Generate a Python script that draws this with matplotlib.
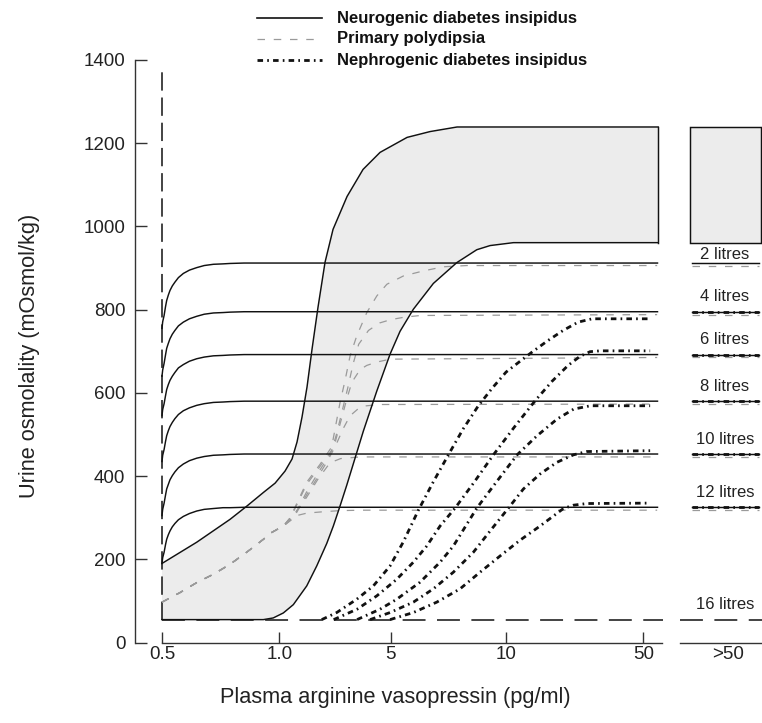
import numpy as np
import matplotlib
matplotlib.use("Agg")
import matplotlib.pyplot as plt
from matplotlib.lines import Line2D
from matplotlib.patches import Rectangle

plt.rcParams['font.family'] = ['Liberation Sans', 'DejaVu Sans']

# ------------------------------------------------------------------ data
X_TICKS = [0.5, 1.0, 5, 10, 50]
X_TICK_LABELS = ['0.5', '1.0', '5', '10', '50']
Y_TICKS = [0, 200, 400, 600, 800, 1000, 1200, 1400]
GT50_LABEL = '>50'
LITRE_LABELS = ['2 litres', '4 litres', '6 litres', '8 litres', '10 litres', '12 litres']
LABEL_16L = '16 litres'
LEGEND_LABELS = ['Neurogenic diabetes insipidus', 'Primary polydipsia',
                 'Nephrogenic diabetes insipidus']

LEVEL_16L = 55                 # maximal dilution (16 litres)
LIMIT_LINE_Y = [55, 1381]      # vertical dashed line at 0.5 pg/ml
LIMIT_LINE_X = 0.5

# Neurogenic diabetes insipidus (solid)
NEURO_X = [0.5, 0.503, 0.509, 0.515, 0.520, 0.527, 0.534, 0.544, 0.555, 0.570,
           0.591, 0.617, 0.648, 0.680, 0.719, 0.760, 0.790, 0.850, 54.1]
NEURO_2L = [755, 771, 786, 807, 822, 835, 846, 857, 866, 877,
            887, 895, 901, 906, 909, 910, 911, 912, 912]
NEURO_4L = [640, 655, 671, 691, 707, 719, 730, 741, 750, 761,
            770, 778, 784, 789, 792, 793, 794, 795, 795]
NEURO_6L = [545, 560, 574, 593, 608, 620, 630, 640, 649, 660,
            668, 676, 682, 686, 689, 690, 691, 692, 692]
NEURO_8L = [435, 450, 464, 483, 497, 509, 519, 529, 538, 548,
            557, 564, 570, 574, 577, 578, 579, 580, 580]
NEURO_10L = [305, 320, 335, 354, 369, 380, 391, 401, 410, 420,
             429, 437, 443, 447, 450, 451, 452, 453, 453]
NEURO_12L = [190, 204, 217, 235, 248, 259, 268, 278, 286, 295,
             303, 310, 316, 320, 322, 324, 324, 325, 325]

# Normal range band
BAND_UP_X = [0.5, 0.648, 0.790, 0.862, 0.933, 0.982, 1.205, 1.456, 1.636, 1.815,
             1.994, 2.174, 2.389, 2.641, 2.928, 3.431, 4.005, 4.616, 5.707, 6.704,
             7.875, 54.28]
BAND_UP_Y = [190, 241, 296, 328, 361, 383, 412, 441, 482, 542,
             614, 705, 806, 914, 993, 1072, 1137, 1178, 1214, 1228,
             1239, 1239]
BAND_LO_X = [0.5, 0.896, 0.932, 0.974, 1.144, 1.503, 1.984, 2.343, 2.702, 2.939,
             3.179, 3.420, 3.718, 4.016, 4.497, 4.975, 5.403, 5.980, 6.847, 7.862,
             8.729, 9.306, 12.13, 54.28]
BAND_LO_Y = [55, 55, 55, 59, 71, 91, 136, 184, 238, 280,
             328, 378, 443, 508, 604, 693, 748, 801, 863, 913,
             944, 954, 961, 961]

# Primary polydipsia (grey dashed): common trunk + branches
PP_TRUNK_X = [0.5, 0.577, 0.648, 0.719, 0.790, 0.861, 0.932, 0.969, 1.144]
PP_TRUNK_Y = [97, 120, 144, 164, 188, 217, 248, 265, 280]
PP_2L_X = [1.39, 1.98, 2.46, 2.88, 3.0, 3.18, 3.36, 3.54, 3.78, 4.14, 4.50, 4.86,
           5.55, 6.41, 7.28, 8.3, 54.0]
PP_2L_Y = [300, 385, 428, 470, 513, 577, 630, 689, 737, 793, 833, 861,
           881, 893, 903, 906, 906]
PP_4L_X = [1.39, 1.98, 2.46, 2.88, 3.05, 3.25, 3.45, 3.65, 3.85, 4.2, 4.6, 5.0,
           5.6, 6.3, 54.0]
PP_4L_Y = [298, 380, 423, 462, 500, 555, 610, 670, 717, 750, 768, 776,
           782, 786, 788]
PP_6L_X = [1.5, 1.98, 2.46, 2.8, 3.0, 3.2, 3.4, 3.6, 3.9, 4.14, 4.5, 4.98, 54.0]
PP_6L_Y = [300, 362, 415, 450, 480, 530, 580, 625, 656, 666, 674, 681, 685]
PP_8L_X = [1.5, 1.98, 2.4, 2.7, 3.0, 3.3, 3.54, 3.8, 4.0, 4.6, 54.0]
PP_8L_Y = [298, 355, 400, 433, 470, 515, 545, 560, 568, 572, 573]
PP_10L_X = [1.67, 1.98, 2.39, 2.82, 3.2, 3.9, 54.0]
PP_10L_Y = [320, 349, 393, 432, 442, 446, 446]
PP_12L_X = [1.56, 1.99, 2.53, 3.18, 4.0, 54.0]
PP_12L_Y = [304, 311, 314, 317, 318, 318]

# Nephrogenic diabetes insipidus (heavy dash-dot)
NEPHRO_1_X = [2.522, 3.061, 3.779, 4.375, 4.975, 5.546, 6.197, 6.834, 7.497, 8.135,
              8.785, 9.393, 10.0, 14.08, 17.87, 22.24, 26.61, 30.98, 35.06, 51.95]
NEPHRO_1_Y = [55, 72, 104, 136, 184, 242, 318, 385, 451, 513,
              568, 611, 650, 676, 700, 726, 750, 770, 778, 778]
NEPHRO_2_X = [2.950, 3.790, 4.497, 5.260, 5.980, 6.561, 7.138, 7.788, 8.612, 9.449,
              12.33, 18.45, 23.40, 28.06, 31.56, 34.47, 37.39, 51.95]
NEPHRO_2_Y = [55, 80, 112, 152, 193, 232, 280, 323, 385, 451,
              517, 581, 628, 666, 688, 699, 701, 701]
NEPHRO_3_X = [3.790, 4.615, 5.260, 6.270, 7.138, 7.715, 8.729, 9.609, 13.20, 19.03,
              24.85, 29.69, 34.56, 51.95]
NEPHRO_3_Y = [55, 80, 104, 145, 193, 232, 323, 388, 451, 497,
              537, 561, 569, 569]
NEPHRO_4_X = [4.257, 4.975, 5.980, 6.847, 7.715, 8.582, 9.306, 10.67, 15.04, 19.90,
              24.77, 29.61, 33.51, 51.95]
NEPHRO_4_Y = [55, 72, 97, 129, 169, 217, 268, 323, 369, 405,
              433, 451, 459, 461]
NEPHRO_5_X = [4.975, 5.980, 6.995, 8.005, 8.872, 9.740, 14.08, 19.90, 23.78, 26.69,
              29.61, 33.51, 51.95]
NEPHRO_5_Y = [55, 72, 97, 129, 169, 208, 246, 280, 304, 322,
              330, 334, 335]

# ">50" column levels
GT50_NEURO = [912, 795, 692, 580, 453, 325]
GT50_PP = [906, 788, 685, 573, 446, 318]
GT50_NEPHRO = [795, 692, 580, 453, 325]

# ------------------------------------------------------------------ styles
BLACK = '#111111'
GREY = '#9a9a9a'
FILL = '#ececec'
SPINE = '#333333'
LW_SOLID = 1.05
PP_STYLE = dict(color=GREY, lw=0.9, linestyle=(0, (6, 7)))
NEPHRO_STYLE = dict(color=BLACK, lw=2.0, linestyle=(0, (2.0, 1.5, 0.6, 1.5)),
                    dash_capstyle='butt')
LONGDASH = dict(color=BLACK, lw=1.1, linestyle=(0, (15, 7.5)))
VDASH = dict(color=BLACK, lw=1.1, linestyle=(0, (12, 4.5)))

W, H = 762, 723
def fx(px):
    return px / W
def fy(py):
    return 1 - py / H

fig = plt.figure(figsize=(W / 100, H / 100), dpi=100)
y_bot, y_top = 642.5, 60.0
ax = fig.add_axes([fx(135), fy(y_bot), fx(663) - fx(135), fy(y_top) - fy(y_bot)])
ax2 = fig.add_axes([fx(680), fy(y_bot), fx(762) - fx(680), fy(y_top) - fy(y_bot)])

# piecewise axis (schematic, non-uniform spacing of the tick values)
XV = np.array([0, 0.5, 1, 5, 10, 50, 60])
XP = np.array([44.7, 162, 279.3, 390.7, 506, 643.3, 677.6])
def fwd(v):
    return np.interp(v, XV, XP)
def inv(p):
    return np.interp(p, XP, XV)
ax.set_xscale('function', functions=(fwd, inv))
ax.set_xlim(0.385, 55.7)
ax.set_ylim(0, 1400)

# band
ax.fill(np.concatenate([BAND_UP_X, BAND_LO_X[::-1]]),
        np.concatenate([BAND_UP_Y, BAND_LO_Y[::-1]]),
        color=FILL, lw=0, zorder=1)
ax.plot(BAND_UP_X, BAND_UP_Y, color=BLACK, lw=LW_SOLID, zorder=4)
ax.plot(BAND_LO_X, BAND_LO_Y, color=BLACK, lw=LW_SOLID, zorder=4)
ax.plot([BAND_UP_X[-1]] * 2, [BAND_LO_Y[-1], BAND_UP_Y[-1]], color=BLACK,
        lw=LW_SOLID, zorder=4)

# limit lines
ax.plot([LIMIT_LINE_X] * 2, LIMIT_LINE_Y, zorder=3, **VDASH)
ax.plot([LIMIT_LINE_X, ax.get_xlim()[1]], [LEVEL_16L] * 2, zorder=3, **LONGDASH)

# primary polydipsia
for bx, by in [(PP_2L_X, PP_2L_Y), (PP_4L_X, PP_4L_Y), (PP_6L_X, PP_6L_Y),
               (PP_8L_X, PP_8L_Y), (PP_10L_X, PP_10L_Y), (PP_12L_X, PP_12L_Y)]:
    ax.plot(PP_TRUNK_X + bx, PP_TRUNK_Y + by, zorder=3, **PP_STYLE)

# neurogenic
for ny in [NEURO_2L, NEURO_4L, NEURO_6L, NEURO_8L, NEURO_10L, NEURO_12L]:
    ax.plot(NEURO_X, ny, color=BLACK, lw=LW_SOLID, zorder=4)

# nephrogenic
for nx, ny in [(NEPHRO_1_X, NEPHRO_1_Y), (NEPHRO_2_X, NEPHRO_2_Y),
               (NEPHRO_3_X, NEPHRO_3_Y), (NEPHRO_4_X, NEPHRO_4_Y),
               (NEPHRO_5_X, NEPHRO_5_Y)]:
    ax.plot(nx, ny, zorder=5, **NEPHRO_STYLE)

# axes styling
for s in ['top', 'right']:
    ax.spines[s].set_visible(False)
ax.spines['left'].set_bounds(0, 1400)
ax.spines['bottom'].set_bounds(0.5, 55.3)
for s in ['left', 'bottom']:
    ax.spines[s].set_linewidth(1.0)
    ax.spines[s].set_color(SPINE)
ax.set_yticks(Y_TICKS)
ax.set_yticklabels([str(v) for v in Y_TICKS])
ax.set_xticks(X_TICKS)
ax.set_xticklabels(X_TICK_LABELS)
ax.xaxis.set_minor_locator(matplotlib.ticker.NullLocator())
ax.tick_params(axis='y', direction='in', length=8.4, width=1.0, color=SPINE,
               pad=7, labelsize=13.5, labelcolor='#222222')
ax.tick_params(axis='x', direction='in', length=8, width=1.0, color=SPINE,
               pad=2.5, labelsize=13.5, labelcolor='#222222')

# ">50" column
ax2.set_xlim(0, 1)
ax2.set_ylim(0, 1400)
for s in ['top', 'right', 'left']:
    ax2.spines[s].set_visible(False)
ax2.spines['bottom'].set_linewidth(1.0)
ax2.spines['bottom'].set_color(SPINE)
ax2.set_yticks([])
ax2.set_xticks([0.585])
ax2.set_xticklabels([GT50_LABEL])
ax2.tick_params(axis='x', length=0, pad=2.5, labelsize=13.5, labelcolor='#222222')
ax2.add_patch(Rectangle((0.122, BAND_LO_Y[-1]), 0.868, BAND_UP_Y[-1] - BAND_LO_Y[-1],
                        facecolor=FILL, edgecolor=BLACK, lw=LW_SOLID, zorder=2))
x0, x1 = 0.146, 0.963
for v in GT50_PP:
    ax2.plot([x0, x1], [v, v], zorder=3, **PP_STYLE)
for v in GT50_NEURO:
    ax2.plot([x0, x1], [v, v], color=BLACK, lw=LW_SOLID, zorder=4)
for v in GT50_NEPHRO:
    ax2.plot([x0, x1], [v, v], zorder=5, **NEPHRO_STYLE)
ax2.plot([0, 1], [LEVEL_16L] * 2, zorder=3, **LONGDASH)
for i, (lab, v) in enumerate(zip(LITRE_LABELS, GT50_NEURO)):
    off = 3 if i == 0 else 7.5
    ax2.annotate(lab, (0.549, v), xytext=(0, off), textcoords='offset points',
                 ha='center', va='baseline', fontsize=12, color='#222222')
ax2.annotate(LABEL_16L, (0.549, LEVEL_16L), xytext=(0, 8), textcoords='offset points',
             ha='center', va='baseline', fontsize=12, color='#222222')

# axis titles
fig.text(fx(30), fy(356), 'Urine osmolality (mOsmol/kg)', rotation=90,
         ha='center', va='center', fontsize=15.7, color='#222222')
fig.text(fx(395), fy(697), 'Plasma arginine vasopressin (pg/ml)',
         ha='center', va='center', fontsize=15.7, color='#222222')

# legend (drawn manually)
leg_styles = [dict(color=BLACK, lw=1.2, linestyle='-'), PP_STYLE, NEPHRO_STYLE]
for row, (lab, st) in enumerate(zip(LEGEND_LABELS, leg_styles)):
    py = 18 + 21 * row
    fig.add_artist(Line2D([fx(257), fx(322)], [fy(py), fy(py)], **st))
    fig.text(fx(337), fy(py), lab, ha='left', va='center', fontsize=12,
             fontweight='bold', color='#111111')

fig.savefig('out.png', dpi=100)
